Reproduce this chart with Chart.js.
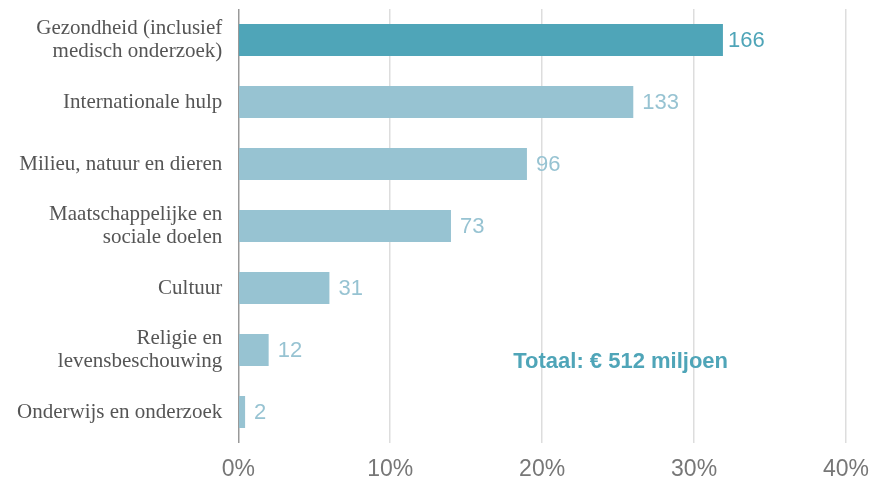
<!DOCTYPE html>
<html>
<head>
<meta charset="utf-8">
<script src="https://cdn.jsdelivr.net/npm/chart.js@4/dist/chart.umd.min.js"></script>
<style>
  body { margin: 0; background: #fff; }
  #wrap { width: 870px; height: 480px; }
</style>
</head>
<body>
<div id="wrap"><canvas id="chart" width="870" height="480"></canvas></div>
<script>
var categories = [
  ['Gezondheid (inclusief', 'medisch onderzoek)'],
  'Internationale hulp',
  'Milieu, natuur en dieren',
  ['Maatschappelijke en', 'sociale doelen'],
  'Cultuur',
  ['Religie en', 'levensbeschouwing'],
  'Onderwijs en onderzoek'
];
var shares = [31.9, 26, 19, 14, 6, 2, 0.45];       // % van totaal
var amounts = [166, 133, 96, 73, 31, 12, 2];        // miljoen euro
var xTicks = [0, 10, 20, 30, 40];
var totalText = 'Totaal: € 512 miljoen';

var dark = '#4fa5b8';
var light = '#97c3d2';
var barColors = shares.map(function (v, i) { return i === 0 ? dark : light; });

var valueLabels = {
  id: 'valueLabels',
  afterDatasetsDraw: function (chart) {
    var ctx = chart.ctx;
    var meta = chart.getDatasetMeta(0);
    ctx.save();
    ctx.font = '22px "Liberation Sans", Arial, sans-serif';
    ctx.textBaseline = 'middle';
    ctx.textAlign = 'left';
    meta.data.forEach(function (bar, i) {
      ctx.fillStyle = barColors[i];
      ctx.fillText(amounts[i], bar.x + (i === 0 ? 5 : 9), bar.y + 1);
    });
    ctx.font = 'bold 22px "Liberation Sans", Arial, sans-serif';
    ctx.fillStyle = dark;
    var xs = chart.scales.x;
    ctx.fillText(totalText, xs.getPixelForValue(18.1), meta.data[5].y + 12);
    ctx.restore();
  }
};

new Chart(document.getElementById('chart'), {
  type: 'bar',
  data: {
    labels: categories,
    datasets: [{
      data: shares,
      backgroundColor: barColors,
      borderWidth: 0,
      barPercentage: 0.52,
      categoryPercentage: 1
    }]
  },
  options: {
    indexAxis: 'y',
    responsive: false,
    animation: false,
    layout: { padding: { top: 9, right: 24, bottom: 2, left: 1 } },
    plugins: {
      legend: { display: false },
      tooltip: { enabled: false }
    },
    scales: {
      x: {
        min: 0,
        max: 40,
        afterBuildTicks: function (axis) {
          axis.ticks = xTicks.map(function (v) { return { value: v }; });
        },
        afterFit: function (s) { s.paddingLeft = 0; s.paddingRight = 0; s.height = 35; },
        grid: {
          color: function (c) { return c.tick && c.tick.value === 0 ? '#999' : '#ddd'; },
          lineWidth: 1.5,
          drawTicks: false
        },
        border: { display: false },
        ticks: {
          padding: 15,
          color: '#777',
          font: { family: '"Liberation Sans", Arial, sans-serif', size: 23, lineHeight: 1 },
          callback: function (v) { return v + '%'; }
        }
      },
      y: {
        afterFit: function (s) { s.paddingTop = 0; s.paddingBottom = 0; },
        grid: { display: false, drawTicks: false },
        border: { display: false },
        ticks: {
          padding: 16,
          color: '#555',
          font: { family: '"Liberation Serif", serif', size: 21, lineHeight: 1.05 }
        }
      }
    }
  },
  plugins: [valueLabels]
});
</script>
</body>
</html>
